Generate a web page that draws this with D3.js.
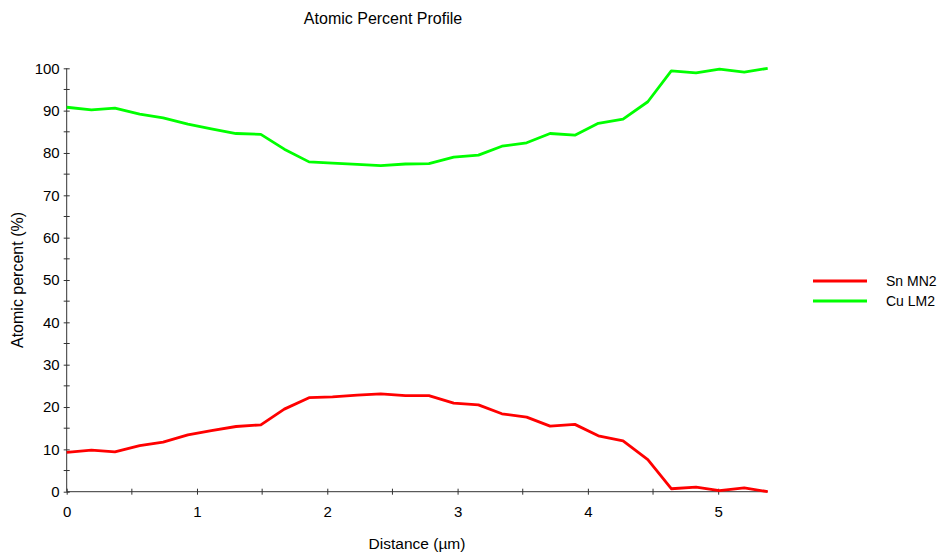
<!DOCTYPE html>
<html><head><meta charset="utf-8">
<script src="https://cdn.jsdelivr.net/npm/d3@7"></script>
<style>
html,body{margin:0;padding:0;background:#fff;}
svg text{font-family:Arial,"Liberation Sans",sans-serif;fill:#000;}
</style></head>
<body>
<svg id="chart" width="943" height="553"></svg>
<script>
const title = "Atomic Percent Profile";
const xLabel = "Distance (\u00b5m)";
const yLabel = "Atomic percent (%)";
const distance = [0, 0.19, 0.37, 0.56, 0.74, 0.93, 1.11, 1.30, 1.49, 1.67,
  1.86, 2.04, 2.23, 2.41, 2.60, 2.78, 2.97, 3.16, 3.34, 3.53,
  3.71, 3.90, 4.08, 4.27, 4.46, 4.64, 4.83, 5.01, 5.20, 5.38];
const snMN2 = [9.3, 9.8, 9.4, 10.9, 11.7, 13.4, 14.4, 15.4, 15.8, 19.5,
  22.2, 22.4, 22.8, 23.1, 22.7, 22.7, 20.9, 20.5, 18.4, 17.6,
  15.5, 15.9, 13.2, 12.0, 7.6, 0.7, 1.1, 0.25, 0.9, 0.0];
const cuLM2 = [90.8, 90.2, 90.6, 89.2, 88.3, 86.8, 85.7, 84.6, 84.4, 80.9,
  77.9, 77.6, 77.3, 77.0, 77.4, 77.5, 79.0, 79.5, 81.6, 82.4,
  84.6, 84.2, 87.0, 88.0, 92.1, 99.4, 98.9, 99.8, 99.1, 100.0];
const seriesNames = ["Sn MN2", "Cu LM2"];
const seriesColors = ["#ff0000", "#00ff00"];
const xTicks = [0, 1, 2, 3, 4, 5];
const xMinor = [0.5, 1.5, 2.5, 3.5, 4.5];
const yTicks = [0, 10, 20, 30, 40, 50, 60, 70, 80, 90, 100];
const yMinor = [5, 15, 25, 35, 45, 55, 65, 75, 85, 95];

const svg = d3.select("#chart");
const x = d3.scaleLinear().domain([0, 5.38]).range([66.7, 767.7]);
const y = d3.scaleLinear().domain([0, 100]).range([491.7, 68.3]);
const axisColor = "#333";

// title
svg.append("text").attr("x", 383).attr("y", 24).attr("text-anchor", "middle")
  .style("font-size", "16px").text(title);

// x axis
const gx = svg.append("g").attr("transform", `translate(0,${y(0)})`);
gx.call(d3.axisBottom(x).tickValues(xTicks).tickFormat(d3.format("d")).tickSize(3).tickPadding(12));
gx.selectAll(".tick line").attr("y1", -3);
gx.select(".domain").remove();
gx.append("line").attr("x1", x(0)).attr("x2", x(5.38)).attr("stroke", axisColor);
gx.selectAll(".tick line").attr("stroke", axisColor);
gx.selectAll(".tick text").style("font-size", "15px").attr("fill", "#000");
gx.selectAll(".minor").data(xMinor).enter().append("line")
  .attr("x1", d => x(d)).attr("x2", d => x(d)).attr("y1", -3).attr("y2", 3).attr("stroke", axisColor);

// y axis
const gy = svg.append("g").attr("transform", `translate(${x(0)},0)`);
gy.call(d3.axisLeft(y).tickValues(yTicks).tickFormat(d3.format("d")).tickSize(3).tickPadding(4));
gy.selectAll(".tick line").attr("x1", 3);
gy.select(".domain").remove();
gy.append("line").attr("y1", y(0)).attr("y2", y(100)).attr("stroke", axisColor);
gy.selectAll(".tick line").attr("stroke", axisColor);
gy.selectAll(".tick text").style("font-size", "15px").attr("fill", "#000");
gy.selectAll(".minor").data(yMinor).enter().append("line")
  .attr("y1", d => y(d)).attr("y2", d => y(d)).attr("x1", -3).attr("x2", 3).attr("stroke", axisColor);

// axis titles
svg.append("text").attr("x", 417).attr("y", 549).attr("text-anchor", "middle")
  .style("font-size", "15.5px").text(xLabel);
svg.append("text").attr("transform", "translate(23,280) rotate(-90)").attr("text-anchor", "middle")
  .style("font-size", "16px").text(yLabel);

// lines
const line = d3.line().x((d, i) => x(distance[i])).y(d => y(d));
[snMN2, cuLM2].forEach((s, k) => {
  svg.append("path").datum(s).attr("d", line).attr("fill", "none")
    .attr("stroke", seriesColors[k]).attr("stroke-width", 2.8).attr("stroke-linejoin", "round");
});

// legend
const lg = svg.append("g");
seriesNames.forEach((n, k) => {
  const yy = 281 + k * 20;
  lg.append("line").attr("x1", 813).attr("x2", 867).attr("y1", yy).attr("y2", yy)
    .attr("stroke", seriesColors[k]).attr("stroke-width", 2.8);
  lg.append("text").attr("x", 886).attr("y", yy + 5).style("font-size", "14px").text(n);
});
</script>
</body></html>
